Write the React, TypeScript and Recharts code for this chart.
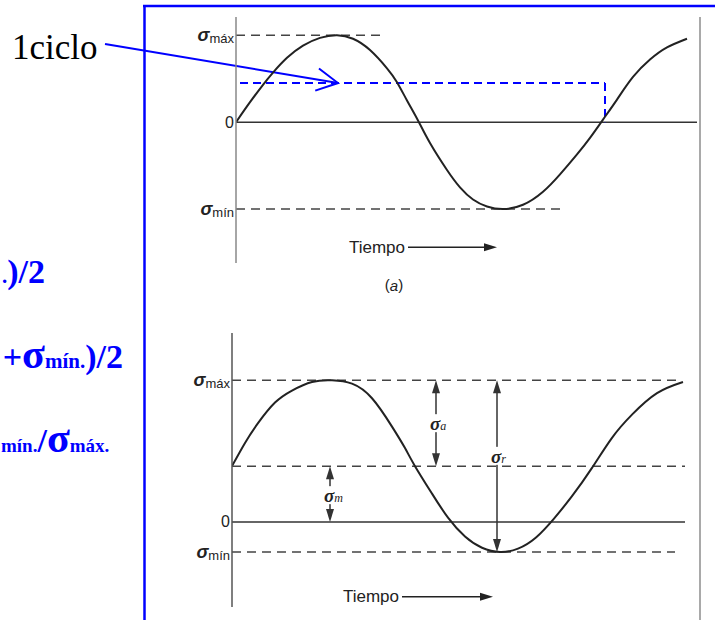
import React from 'react';
import { LineChart, Line, XAxis, YAxis, ReferenceLine, ReferenceDot } from 'recharts';

// (a) tensión alternante pura: tiempo vs tensión
const topTime = [0, 14, 27, 37, 51, 67, 84, 101, 117, 134, 151, 161, 171, 182, 194, 211, 224, 237, 251, 267, 287, 307, 324, 341, 354, 367, 381, 397, 414, 431, 451];
const topStress = [0, 0.23, 0.43, 0.57, 0.74, 0.88, 0.97, 1.0, 0.96, 0.83, 0.62, 0.46, 0.25, 0.02, -0.24, -0.55, -0.75, -0.89, -0.97, -1.0, -0.95, -0.8, -0.6, -0.37, -0.18, 0.03, 0.26, 0.52, 0.72, 0.86, 0.96];
const topTicks = [-1, 0, 1];
const topTickNames = ['σmín', '0', 'σmáx'];
const cycleStart = 4;
const cycleEnd = 369;
const cycleLevel = 0.45;

// (b) tensión fluctuante con tensión media positiva
const bottomTime = [0, 13, 26, 43, 60, 80, 100, 120, 140, 160, 173, 183, 200, 216, 233, 250, 268, 286, 304, 322, 340, 360, 380, 400, 425, 451];
const bottomStress = [0.65, 0.92, 1.15, 1.39, 1.53, 1.63, 1.65, 1.61, 1.44, 1.11, 0.86, 0.65, 0.33, 0.05, -0.17, -0.3, -0.35, -0.31, -0.18, 0.04, 0.3, 0.63, 0.98, 1.25, 1.5, 1.63];
const sigmaMax = 1.65;
const sigmaMean = 0.65;
const sigmaMin = -0.35;
const bottomTicks = [sigmaMin, 0, sigmaMax];
const bottomTickNames = ['σmín', '0', 'σmáx'];

const topData = topTime.map((t, i) => ({ t, v: topStress[i] }));
const bottomData = bottomTime.map((t, i) => ({ t, v: bottomStress[i] }));

const BLUE = '#0000ff';
const INK = '#222';
const SANS = 'Liberation Sans, Arial, sans-serif';
const SERIF = 'Liberation Serif, Times New Roman, serif';

const renderTick = (ticks: number[], names: string[]) => (props: any) => {
  const { x, y, payload } = props;
  const name = names[ticks.indexOf(payload.value)] ?? String(payload.value);
  if (name.startsWith('σ')) {
    return (
      <text x={x} y={y} textAnchor="end" dominantBaseline="central" fill={INK} fontFamily={SANS}>
        <tspan fontSize={18} fontWeight="bold" fontStyle="italic">σ</tspan>
        <tspan fontSize={13} dy={3}>{name.slice(1)}</tspan>
      </text>
    );
  }
  return (
    <text x={x} y={y} textAnchor="end" dominantBaseline="central" fill={INK} fontFamily={SANS} fontSize={16}>
      {name}
    </text>
  );
};

// flecha "Tiempo ——▶"
const timeArrow = (p: any) => {
  const { x1, y1, x2 } = p;
  return (
    <g>
      <text x={x1 - 3} y={y1} textAnchor="end" dominantBaseline="central" fontSize={17} fontFamily={SANS} fill={INK}>
        Tiempo
      </text>
      <line x1={x1} y1={y1} x2={x2 - 10} y2={y1} stroke={INK} strokeWidth={1.5} />
      <polygon points={`${x2},${y1} ${x2 - 13},${y1 - 4} ${x2 - 13},${y1 + 4}`} fill={INK} />
    </g>
  );
};

// puntero azul abierto desde "1ciclo"
const cyclePointer = (p: any) => {
  const { x1, y1, x2, y2 } = p;
  const len = Math.hypot(x2 - x1, y2 - y1);
  const ux = (x1 - x2) / len;
  const uy = (y1 - y2) / len;
  const a = (28 * Math.PI) / 180;
  const arm = 24;
  const ax1 = x2 + arm * (ux * Math.cos(a) - uy * Math.sin(a));
  const ay1 = y2 + arm * (ux * Math.sin(a) + uy * Math.cos(a));
  const ax2 = x2 + arm * (ux * Math.cos(-a) - uy * Math.sin(-a));
  const ay2 = y2 + arm * (ux * Math.sin(-a) + uy * Math.cos(-a));
  return (
    <g>
      <line x1={x1} y1={y1} x2={x2} y2={y2} stroke={BLUE} strokeWidth={2} />
      <polyline points={`${ax1},${ay1} ${x2},${y2} ${ax2},${ay2}`} fill="none" stroke={BLUE} strokeWidth={2} />
    </g>
  );
};

// cota vertical con doble flecha y etiqueta σ
const doubleArrow = (sub: string, frac: number) => (p: any) => {
  const { x1, y1, y2 } = p;
  const top = Math.min(y1, y2);
  const bot = Math.max(y1, y2);
  const ly = top + (bot - top) * frac;
  return (
    <g>
      <line x1={x1} y1={top + 10} x2={x1} y2={bot - 10} stroke="#333" strokeWidth={1.5} />
      <polygon points={`${x1},${top} ${x1 - 4},${top + 13} ${x1 + 4},${top + 13}`} fill="#333" />
      <polygon points={`${x1},${bot} ${x1 - 4},${bot - 13} ${x1 + 4},${bot - 13}`} fill="#333" />
      <rect x={x1 - 7} y={ly - 9} width={24} height={18} fill="#fff" />
      <text x={x1 - 6} y={ly} dominantBaseline="central" fill={INK} fontFamily={SERIF} fontStyle="italic">
        <tspan fontSize={19} fontWeight="bold">σ</tspan>
        <tspan fontSize={12} dy={3}>{sub}</tspan>
      </text>
    </g>
  );
};

const panelLabel = (p: any) => (
  <text x={p.cx} y={p.cy} textAnchor="middle" dominantBaseline="central" fontSize={15} fontFamily={SANS} fill={INK}>
    (<tspan fontStyle="italic">a</tspan>)
  </text>
);

const dash = { stroke: '#444', strokeWidth: 1.5, strokeDasharray: '9 6' };

function TopPanel() {
  return (
    <LineChart width={715} height={300} data={topData} margin={{ top: 17, right: 18, bottom: 37, left: 0 }}>
      <XAxis dataKey="t" type="number" domain={[0, 461]} allowDataOverflow hide />
      <YAxis
        type="number"
        domain={[-1.62, 1.21]}
        allowDataOverflow
        width={236}
        ticks={topTicks}
        tick={renderTick(topTicks, topTickNames)}
        tickLine={false}
        tickSize={0}
        tickMargin={2}
        axisLine={{ stroke: '#888', strokeWidth: 1.5 }}
      />
      <ReferenceLine segment={[{ x: 0, y: 1 }, { x: 146, y: 1 }]} {...dash} ifOverflow="visible" />
      <ReferenceLine segment={[{ x: 0, y: -1 }, { x: 324, y: -1 }]} {...dash} ifOverflow="visible" />
      <ReferenceLine segment={[{ x: 0, y: 0 }, { x: 461, y: 0 }]} stroke="#333" strokeWidth={1.5} ifOverflow="visible" />
      <ReferenceLine
        segment={[{ x: cycleStart, y: cycleLevel }, { x: cycleEnd, y: cycleLevel }]}
        stroke={BLUE}
        strokeWidth={2}
        strokeDasharray="8 5"
        ifOverflow="visible"
      />
      <ReferenceLine
        segment={[{ x: cycleEnd, y: cycleLevel }, { x: cycleEnd, y: 0 }]}
        stroke={BLUE}
        strokeWidth={2}
        strokeDasharray="8 5"
        ifOverflow="visible"
      />
      <ReferenceLine segment={[{ x: -131, y: 0.9 }, { x: 102, y: cycleLevel }]} shape={cyclePointer} ifOverflow="visible" />
      <ReferenceLine segment={[{ x: 172, y: -1.44 }, { x: 261, y: -1.44 }]} shape={timeArrow} ifOverflow="visible" />
      <ReferenceDot x={158} y={-1.87} r={0} shape={panelLabel} ifOverflow="visible" />
      <Line type="natural" dataKey="v" stroke={INK} strokeWidth={2} dot={false} isAnimationActive={false} />
    </LineChart>
  );
}

function BottomPanel() {
  return (
    <LineChart width={715} height={320} data={bottomData} margin={{ top: 33, right: 30, bottom: 13, left: 0 }}>
      <XAxis dataKey="t" type="number" domain={[0, 453]} allowDataOverflow hide />
      <YAxis
        type="number"
        domain={[-0.99, 2.2]}
        allowDataOverflow
        width={232}
        ticks={bottomTicks}
        tick={renderTick(bottomTicks, bottomTickNames)}
        tickLine={false}
        tickSize={0}
        tickMargin={2}
        axisLine={{ stroke: '#555', strokeWidth: 1.5 }}
      />
      <ReferenceLine segment={[{ x: 0, y: sigmaMax }, { x: 448, y: sigmaMax }]} {...dash} ifOverflow="visible" />
      <ReferenceLine segment={[{ x: 0, y: sigmaMean }, { x: 453, y: sigmaMean }]} {...dash} ifOverflow="visible" />
      <ReferenceLine segment={[{ x: 0, y: 0 }, { x: 453, y: 0 }]} stroke="#333" strokeWidth={1.5} ifOverflow="visible" />
      <ReferenceLine segment={[{ x: 0, y: sigmaMin }, { x: 443, y: sigmaMin }]} {...dash} ifOverflow="visible" />
      <ReferenceLine segment={[{ x: 204, y: sigmaMax }, { x: 204, y: sigmaMean }]} shape={doubleArrow('a', 0.5)} ifOverflow="visible" />
      <ReferenceLine segment={[{ x: 265, y: sigmaMax }, { x: 265, y: sigmaMin }]} shape={doubleArrow('r', 0.44)} ifOverflow="visible" />
      <ReferenceLine segment={[{ x: 98, y: sigmaMean }, { x: 98, y: 0 }]} shape={doubleArrow('m', 0.52)} ifOverflow="visible" />
      <ReferenceLine segment={[{ x: 170, y: -0.87 }, { x: 261, y: -0.87 }]} shape={timeArrow} ifOverflow="visible" />
      <Line type="natural" dataKey="v" stroke={INK} strokeWidth={2} dot={false} isAnimationActive={false} />
    </LineChart>
  );
}

export default function App() {
  return (
    <div style={{ position: 'absolute', left: 0, top: 0, width: 715, height: 620, background: '#fff', overflow: 'hidden' }}>
      <svg width={715} height={620} style={{ position: 'absolute', left: 0, top: 0 }}>
        <line x1={144.5} y1={5} x2={144.5} y2={620} stroke={BLUE} strokeWidth={2.5} />
        <line x1={143} y1={6} x2={715} y2={6} stroke={BLUE} strokeWidth={2.5} />
        <line x1={700} y1={17} x2={700} y2={620} stroke="#8c8c8c" strokeWidth={1.5} />
        <text x={12} y={59} fontSize={35} fontFamily={SERIF} fill="#000">1ciclo</text>
        <g fill={BLUE} fontFamily={SERIF} fontWeight="bold">
          <text x={45} y={283} textAnchor="end" fontSize={34}>
            <tspan fontSize={21}>.</tspan>)/2
          </text>
          <text x={123} y={368} textAnchor="end" fontSize={34}>
            +<tspan fontSize={42}>σ</tspan><tspan fontSize={21}>mín.</tspan>)/2
          </text>
          <text x={1} y={452} fontSize={34}>
            <tspan fontSize={19}>mín.</tspan>/<tspan fontSize={42}>σ</tspan><tspan fontSize={19}>máx.</tspan>
          </text>
        </g>
      </svg>
      <div style={{ position: 'absolute', left: 0, top: 0 }}>
        <TopPanel />
      </div>
      <div style={{ position: 'absolute', left: 0, top: 300 }}>
        <BottomPanel />
      </div>
    </div>
  );
}
